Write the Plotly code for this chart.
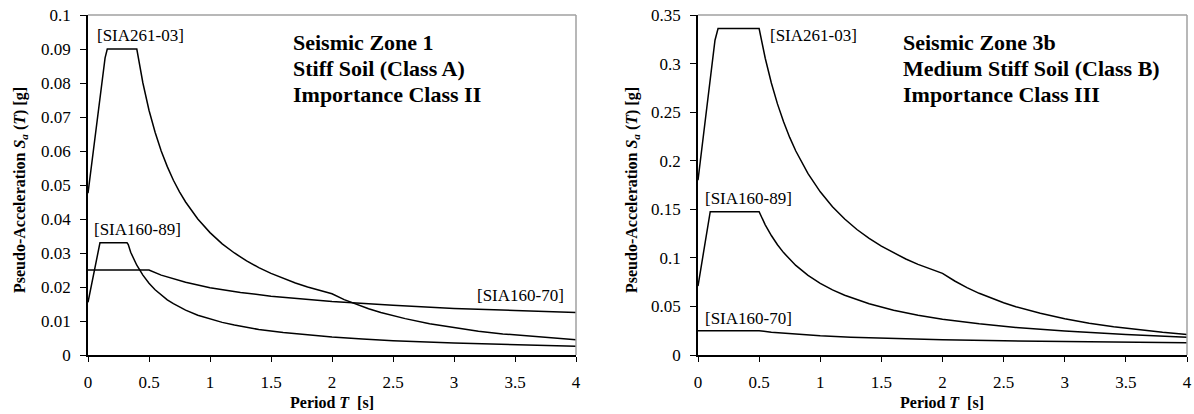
import plotly.graph_objects as go

# ---------------- data ----------------
# Left panel: Seismic Zone 1, Stiff Soil (Class A), Importance Class II
L261_T = [0, 0.14, 0.158, 0.40, 0.45, 0.5, 0.55, 0.6, 0.65, 0.7, 0.75, 0.8, 0.9, 1.0, 1.1, 1.2, 1.3, 1.4,
          1.5, 1.6, 1.7, 1.8, 1.9, 2.0, 2.1, 2.2, 2.3, 2.4, 2.5, 2.6, 2.8, 3.0, 3.2, 3.4, 3.6, 3.8, 4.0]
L261_S = [0.0476, 0.0874, 0.090, 0.090, 0.080, 0.072, 0.0655, 0.060, 0.0554, 0.0514, 0.048, 0.045, 0.040,
          0.036, 0.0327, 0.030, 0.0277, 0.0257, 0.024, 0.0225, 0.0212, 0.020, 0.0189, 0.018, 0.0163,
          0.0149, 0.0136, 0.0125, 0.0115, 0.0107, 0.0092, 0.0080, 0.0070, 0.0062, 0.0056, 0.0050, 0.0045]

L89_T = [0, 0.098, 0.32, 0.33, 0.35, 0.4, 0.45, 0.5, 0.55, 0.6, 0.65, 0.7, 0.8, 0.9, 1.0, 1.1, 1.2, 1.4,
         1.6, 1.8, 2.0, 2.25, 2.5, 3.0, 3.5, 4.0]
L89_S = [0.0155, 0.033, 0.033, 0.0325, 0.0302, 0.0264, 0.0235, 0.0211, 0.0192, 0.0176, 0.0162, 0.0151,
         0.0132, 0.0117, 0.0106, 0.0096, 0.0088, 0.0075, 0.0066, 0.0059, 0.0053, 0.0047, 0.0042, 0.0035,
         0.0030, 0.0026]

L70_T = [0, 0.5, 0.6, 0.7, 0.8, 1.0, 1.25, 1.5, 1.75, 2.0, 2.5, 3.0, 3.5, 4.0]
L70_S = [0.025, 0.025, 0.0235, 0.0224, 0.0214, 0.0198, 0.0184, 0.0173, 0.0165, 0.0157, 0.0146, 0.0137,
         0.0131, 0.0125]

# Right panel: Seismic Zone 3b, Medium Stiff Soil (Class B), Importance Class III
R261_T = [0, 0.139, 0.164, 0.5, 0.55, 0.6, 0.65, 0.7, 0.75, 0.8, 0.9, 1.0, 1.1, 1.2, 1.3, 1.4, 1.5, 1.6,
          1.7, 1.8, 1.9, 2.0, 2.1, 2.2, 2.3, 2.4, 2.5, 2.6, 2.8, 3.0, 3.2, 3.4, 3.6, 3.8, 4.0]
R261_S = [0.180, 0.324, 0.336, 0.336, 0.3055, 0.280, 0.2585, 0.240, 0.224, 0.210, 0.1867, 0.168, 0.1527,
          0.140, 0.1292, 0.120, 0.112, 0.105, 0.0988, 0.0933, 0.0884, 0.084, 0.0762, 0.0694, 0.0635,
          0.0583, 0.0538, 0.0497, 0.0429, 0.0373, 0.0328, 0.0291, 0.0259, 0.0233, 0.021]

R89_T = [0, 0.1, 0.5, 0.55, 0.6, 0.65, 0.7, 0.8, 0.9, 1.0, 1.1, 1.2, 1.4, 1.6, 1.8, 2.0, 2.3, 2.6, 3.0,
         3.5, 4.0]
R89_S = [0.071, 0.1475, 0.1475, 0.134, 0.123, 0.1135, 0.1054, 0.0922, 0.0819, 0.0738, 0.067, 0.0615,
         0.0527, 0.0461, 0.041, 0.0369, 0.0321, 0.0284, 0.0246, 0.0211, 0.0184]

R70_T = [0, 0.5, 0.6, 0.7, 0.8, 1.0, 1.25, 1.5, 1.75, 2.0, 2.5, 3.0, 3.5, 4.0]
R70_S = [0.025, 0.025, 0.0235, 0.0224, 0.0214, 0.0198, 0.0184, 0.0173, 0.0165, 0.0157, 0.0146, 0.0137,
         0.0131, 0.0125]

LEFT_INFO = ["Seismic Zone 1", "Stiff Soil (Class A)", "Importance Class II"]
RIGHT_INFO = ["Seismic Zone 3b", "Medium Stiff Soil (Class B)", "Importance Class III"]

# ---------------- figure ----------------
FONT = "Liberation Serif"
W, H = 1194, 414

fig = go.Figure()
line = dict(color="black", width=1.5)
for T, S, ax in [(L261_T, L261_S, "1"), (L89_T, L89_S, "1"), (L70_T, L70_S, "1"),
                 (R261_T, R261_S, "2"), (R89_T, R89_S, "2"), (R70_T, R70_S, "2")]:
    fig.add_trace(go.Scatter(x=T, y=S, mode="lines", line=line, showlegend=False,
                             xaxis="x" if ax == "1" else "x2", yaxis="y" if ax == "1" else "y2",
                             hoverinfo="skip"))


def px_x(p):
    return p / W


def px_y(p):
    return 1 - p / H


ydom = [px_y(355), px_y(15)]
common_x = dict(range=[0, 4], dtick=0.5, tick0=0, showgrid=False, zeroline=False, showline=True,
                linecolor="black", linewidth=1.5, ticks="outside", ticklen=5, tickwidth=1.2,
                tickcolor="black", tickfont=dict(family=FONT, size=17, color="black"),
                ticklabelstandoff=6, automargin=False)
common_y = dict(showgrid=False, zeroline=False, showline=True, linecolor="black", linewidth=1.5,
                ticks="outside", ticklen=6, tickwidth=1.2, tickcolor="black",
                tickfont=dict(family=FONT, size=17, color="black"), ticklabelstandoff=6,
                domain=ydom, automargin=False)

fig.update_layout(
    template="none",
    width=W, height=H, margin=dict(l=0, r=0, t=0, b=0, pad=0, autoexpand=False),
    plot_bgcolor="white", paper_bgcolor="white",
    xaxis=dict(common_x, domain=[px_x(88), px_x(576)], anchor="y"),
    yaxis=dict(common_y, range=[0, 0.1], dtick=0.01, anchor="x"),
    xaxis2=dict(common_x, domain=[px_x(698), px_x(1187)], anchor="y2"),
    yaxis2=dict(common_y, range=[0, 0.35], dtick=0.05, anchor="x2"),
)

# grey top/right borders of plot areas
shapes = []
for xr, yr in [("x domain", "y domain"), ("x2 domain", "y2 domain")]:
    shapes.append(dict(type="line", xref=xr, yref=yr, x0=0, x1=1, y0=1, y1=1,
                       line=dict(color="#a0a0a0", width=1.5)))
    shapes.append(dict(type="line", xref=xr, yref=yr, x0=1, x1=1, y0=0, y1=1,
                       line=dict(color="#a0a0a0", width=1.5)))
fig.update_layout(shapes=shapes)

ann = []


def txt(x, y, text, size=17, xanchor="center", yanchor="middle", angle=0, align="center"):
    ann.append(dict(x=px_x(x), y=px_y(y), xref="paper", yref="paper", text=text, showarrow=False,
                    xanchor=xanchor, yanchor=yanchor, textangle=angle, align=align,
                    font=dict(family=FONT, size=size, color="black")))


# series labels
txt(140, 36, "[SIA261-03]")
txt(137, 229, "[SIA160-89]")
txt(520, 295, "[SIA160-70]")
txt(813, 35, "[SIA261-03]")
txt(748, 198, "[SIA160-89]")
txt(748, 318, "[SIA160-70]")

# panel descriptions
for i, (a, b) in enumerate(zip(LEFT_INFO, RIGHT_INFO)):
    yc = 42 + 26 * i
    txt(291, yc, "<b>%s</b>" % a, size=22, xanchor="left")
    txt(901, yc, "<b>%s</b>" % b, size=22, xanchor="left")

# axis titles
XT = "<b>Period <i>T</i>  [s]</b>"
YT = "<b>Pseudo-Acceleration <i>S<sub>a</sub></i> (<i>T</i>) [g]</b>"
txt(332, 402, XT, size=16)
txt(942, 402, XT, size=16)
txt(20, 190, YT, size=16, angle=-90)
txt(632, 190, YT, size=16, angle=-90)

fig.update_layout(annotations=ann)
fig.write_html("out.html")
